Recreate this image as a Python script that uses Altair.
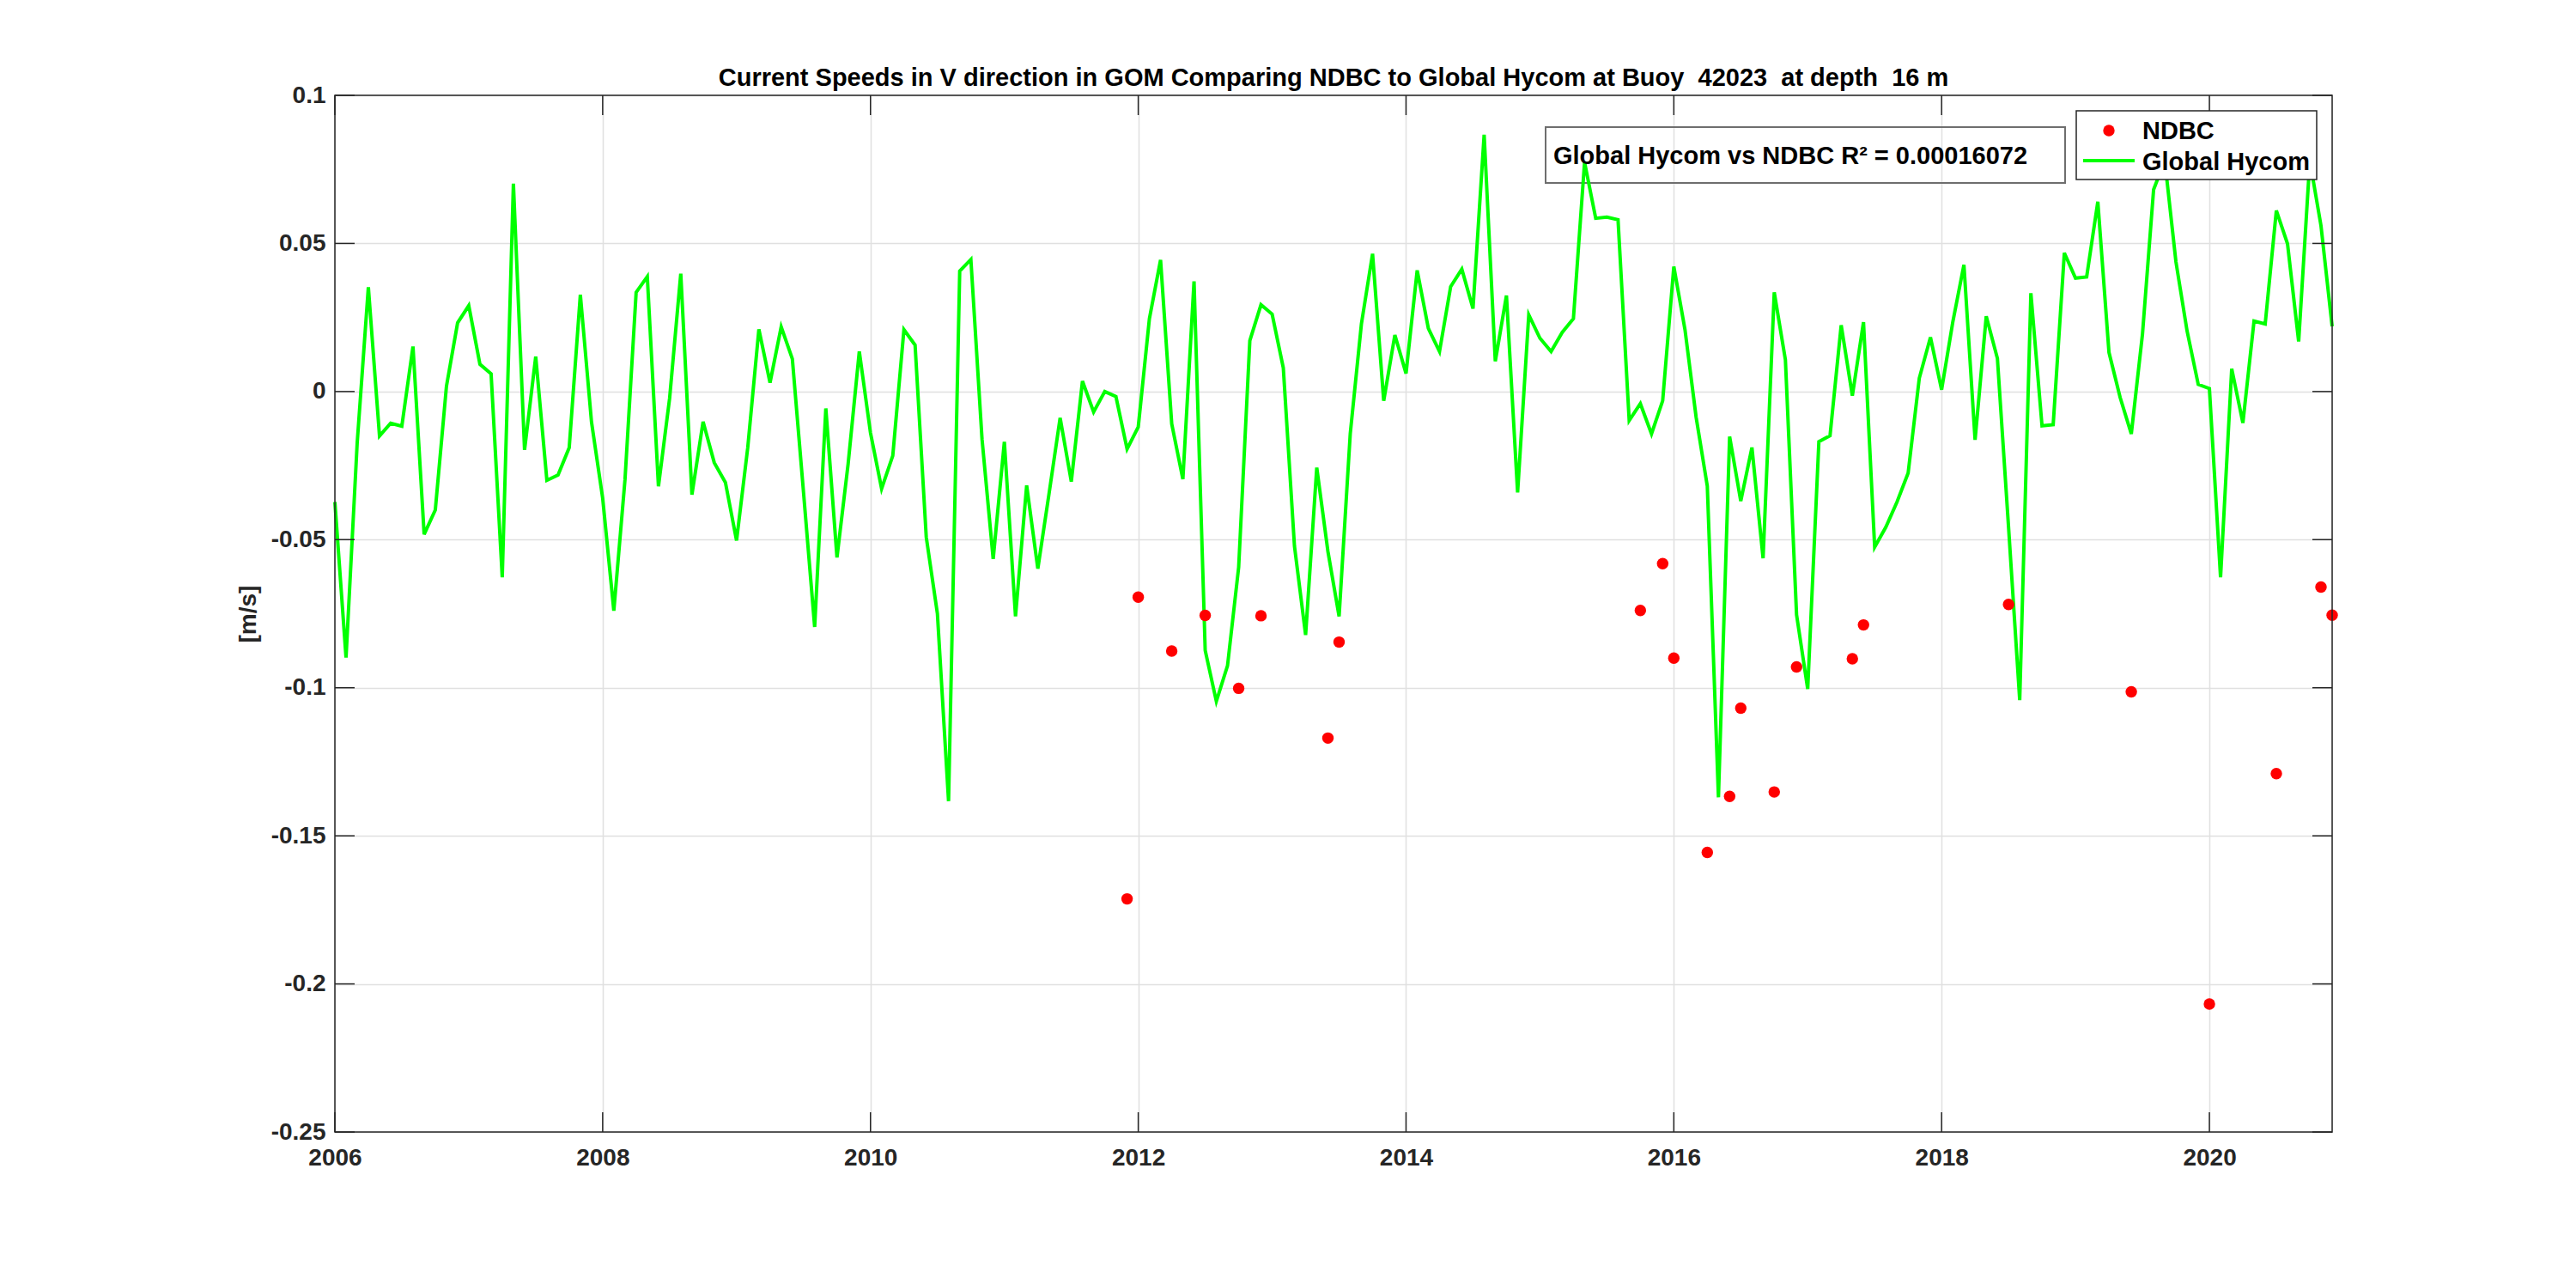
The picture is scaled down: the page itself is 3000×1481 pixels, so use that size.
import altair as alt
import pandas as pd

# ---------------- data ----------------
title_text = "Current Speeds in V direction in GOM Comparing NDBC to Global Hycom at Buoy \u00a042023 \u00a0at depth \u00a016 m"
y_title = "[m/s]"
series_names = ["NDBC", "Global Hycom"]
r2_label = "Global Hycom vs NDBC R\u00b2 = 0.00016072"

x_ticks = [2006, 2008, 2010, 2012, 2014, 2016, 2018, 2020]
y_ticks = [-0.25, -0.2, -0.15, -0.1, -0.05, 0.0, 0.05, 0.1]

hycom_start_year = 2006  # monthly values, Jan 2006 .. Dec 2020
hycom_v = [
    -0.0373, -0.0898, -0.0173, 0.0352, -0.0150, -0.0107, -0.0117, 0.0152, -0.0482, -0.0400, 0.0018, 0.0232,
    0.0290, 0.0092, 0.0060, -0.0627, 0.0702, -0.0197, 0.0118, -0.0300, -0.0282, -0.0190, 0.0327, -0.0103,
    -0.0360, -0.0740, -0.0298, 0.0335, 0.0388, -0.0320, -0.0023, 0.0398, -0.0348, -0.0102, -0.0240, -0.0307,
    -0.0503, -0.0190, 0.0210, 0.0030, 0.0218, 0.0110, -0.0340, -0.0795, -0.0057, -0.0560, -0.0244, 0.0135,
    -0.0139, -0.0328, -0.0217, 0.0209, 0.0157, -0.0491, -0.0750, -0.1383, 0.0407, 0.0446, -0.0161, -0.0565,
    -0.0170, -0.0759, -0.0317, -0.0598, -0.0346, -0.0089, -0.0304, 0.0035, -0.0069, 0.0000, -0.0017, -0.0194,
    -0.0120, 0.0246, 0.0444, -0.0109, -0.0296, 0.0372, -0.0874, -0.1046, -0.0926, -0.0593, 0.0172, 0.0293,
    0.0261, 0.0080, -0.0522, -0.0822, -0.0257, -0.0540, -0.0759, -0.0143, 0.0228, 0.0465, -0.0031, 0.0191,
    0.0061, 0.0409, 0.0213, 0.0135, 0.0354, 0.0413, 0.0280, 0.0867, 0.0102, 0.0324, -0.0341, 0.0259,
    0.0180, 0.0135, 0.0200, 0.0246, 0.0774, 0.0585, 0.0589, 0.0580, -0.0098, -0.0041, -0.0143, -0.0031,
    0.0422, 0.0209, -0.0087, -0.0319, -0.1370, -0.0152, -0.0370, -0.0189, -0.0563, 0.0335, 0.0107, -0.0754,
    -0.1004, -0.0169, -0.0149, 0.0224, -0.0014, 0.0234, -0.0525, -0.0458, -0.0373, -0.0275, 0.0045, 0.0183,
    0.0006, 0.0234, 0.0428, -0.0163, 0.0254, 0.0112, -0.0458, -0.1042, 0.0332, -0.0116, -0.0112, 0.0468,
    0.0383, 0.0387, 0.0641, 0.0132, -0.0020, -0.0143, 0.0193, 0.0682, 0.0780, 0.0438, 0.0204, 0.0024,
    0.0010, -0.0627, 0.0077, -0.0106, 0.0238, 0.0228, 0.0611, 0.0499, 0.0169, 0.0780, 0.0560, 0.0220,
]

ndbc_months = [
    "2011-12", "2012-01", "2012-04", "2012-07", "2012-10", "2012-12",
    "2013-06", "2013-07", "2015-10", "2015-12", "2016-01", "2016-04",
    "2016-06", "2016-07", "2016-10", "2016-12", "2017-05", "2017-06",
    "2018-07", "2019-06", "2020-01", "2020-07", "2020-11", "2020-12",
]
ndbc_v = [
    -0.1713, -0.0694, -0.0876, -0.0756, -0.1002, -0.0757,
    -0.1170, -0.0846, -0.0739, -0.0581, -0.0900, -0.1556,
    -0.1367, -0.1069, -0.1352, -0.0930, -0.0902, -0.0788,
    -0.0719, -0.1014, -0.2068, -0.1290, -0.0660, -0.0755,
]

# ---------------- tables ----------------
hy = pd.DataFrame({"t": [hycom_start_year + i / 12 for i in range(len(hycom_v))], "v": hycom_v})
nd = pd.DataFrame({"t": [int(m[:4]) + (int(m[5:]) - 1) / 12 for m in ndbc_months], "v": ndbc_v})
ytk = pd.DataFrame({"v": y_ticks})
xtk = pd.DataFrame({"t": x_ticks})
one = pd.DataFrame({"a": [0]})

# ---------------- layout / style ----------------
W, H = 2326, 1207
FONT = "Liberation Sans"
AX = "#262626"
GREEN = "#00ff00"
RED = "#ff0000"
TICK = 23

xscale = alt.Scale(domain=[2006.0, 2020 + 11 / 12], nice=False, zero=False)
yscale = alt.Scale(domain=[-0.25, 0.1], nice=False, zero=False)

xaxis = alt.Axis(
    values=x_ticks, format="d", labelFont=FONT, labelFontSize=28, labelFontWeight="bold",
    labelColor=AX, ticks=False, tickSize=0, domain=False, grid=True, gridColor="#e0e0e0",
    gridWidth=1.5, labelPadding=16, labelFlush=False, labelOverlap=False,
)
yaxis = alt.Axis(
    values=y_ticks, labelExpr="replace(format(datum.value, '.2~f'), '\u2212', '-')",
    labelFont=FONT, labelFontSize=28, labelFontWeight="bold", labelColor=AX,
    ticks=False, tickSize=0, domain=False, grid=True, gridColor="#e0e0e0", gridWidth=1.5,
    labelPadding=11, labelFlush=False, labelOverlap=False,
    titleFont=FONT, titleFontSize=28, titleFontWeight="bold", titleColor=AX, titlePadding=12,
)
X = alt.X("t:Q", scale=xscale, axis=xaxis, title=None)
Y = alt.Y("v:Q", scale=yscale, axis=yaxis, title=y_title)

txt_kw = dict(font=FONT, fontSize=29, fontWeight="bold", color="black", baseline="alphabetic")

title_mark = alt.Chart(one).mark_text(text=title_text, align="center", **txt_kw).encode(
    x=alt.value(W / 2), y=alt.value(-11))

annot_box = alt.Chart(one).mark_rect(filled=False, stroke="#6e6e6e", strokeWidth=2).encode(
    x=alt.value(1410), x2=alt.value(2015), y=alt.value(37), y2=alt.value(102))
annot_text = alt.Chart(one).mark_text(text=r2_label, align="left", **txt_kw).encode(
    x=alt.value(1419), y=alt.value(80))

line = alt.Chart(hy).mark_line(color=GREEN, strokeWidth=4).encode(x=X, y=Y)
pts = alt.Chart(nd).mark_circle(color=RED, size=180, opacity=1).encode(x=X, y=Y)

rule_kw = dict(color=AX, strokeWidth=1.5)
left_t = alt.Chart(ytk).mark_rule(**rule_kw).encode(y=Y, x=alt.value(0), x2=alt.value(TICK))
right_t = alt.Chart(ytk).mark_rule(**rule_kw).encode(y=Y, x=alt.value(W - TICK), x2=alt.value(W))
top_t = alt.Chart(xtk).mark_rule(**rule_kw).encode(x=X, y=alt.value(0), y2=alt.value(TICK))
bot_t = alt.Chart(xtk).mark_rule(**rule_kw).encode(x=X, y=alt.value(H - TICK), y2=alt.value(H))

frame = alt.Chart(one).mark_rect(filled=False, stroke=AX, strokeWidth=1.5).encode(
    x=alt.value(0), x2=alt.value(W), y=alt.value(0), y2=alt.value(H))

leg_box = alt.Chart(one).mark_rect(fill="white", stroke=AX, strokeWidth=1.5).encode(
    x=alt.value(2028), x2=alt.value(2308), y=alt.value(18), y2=alt.value(98))
leg_dot = alt.Chart(one).mark_circle(color=RED, size=180, opacity=1).encode(
    x=alt.value(2066), y=alt.value(41))
leg_line = alt.Chart(one).mark_rule(color=GREEN, strokeWidth=4).encode(
    x=alt.value(2036), x2=alt.value(2096), y=alt.value(76))
leg_t1 = alt.Chart(one).mark_text(text=series_names[0], align="left", **txt_kw).encode(
    x=alt.value(2105), y=alt.value(51))
leg_t2 = alt.Chart(one).mark_text(text=series_names[1], align="left", **txt_kw).encode(
    x=alt.value(2105), y=alt.value(87))

chart = alt.layer(
    annot_box, line, pts, annot_text, left_t, right_t, top_t, bot_t, frame,
    leg_box, leg_dot, leg_line, leg_t1, leg_t2, title_mark,
).properties(
    width=W, height=H,
    autosize=alt.AutoSizeParams(type="none"),
    padding={"left": 382, "top": 103, "right": 270, "bottom": 150},
).configure_view(strokeOpacity=0).configure(background="white")

chart.save("out.html", embed_options={"renderer": "svg", "actions": False})
